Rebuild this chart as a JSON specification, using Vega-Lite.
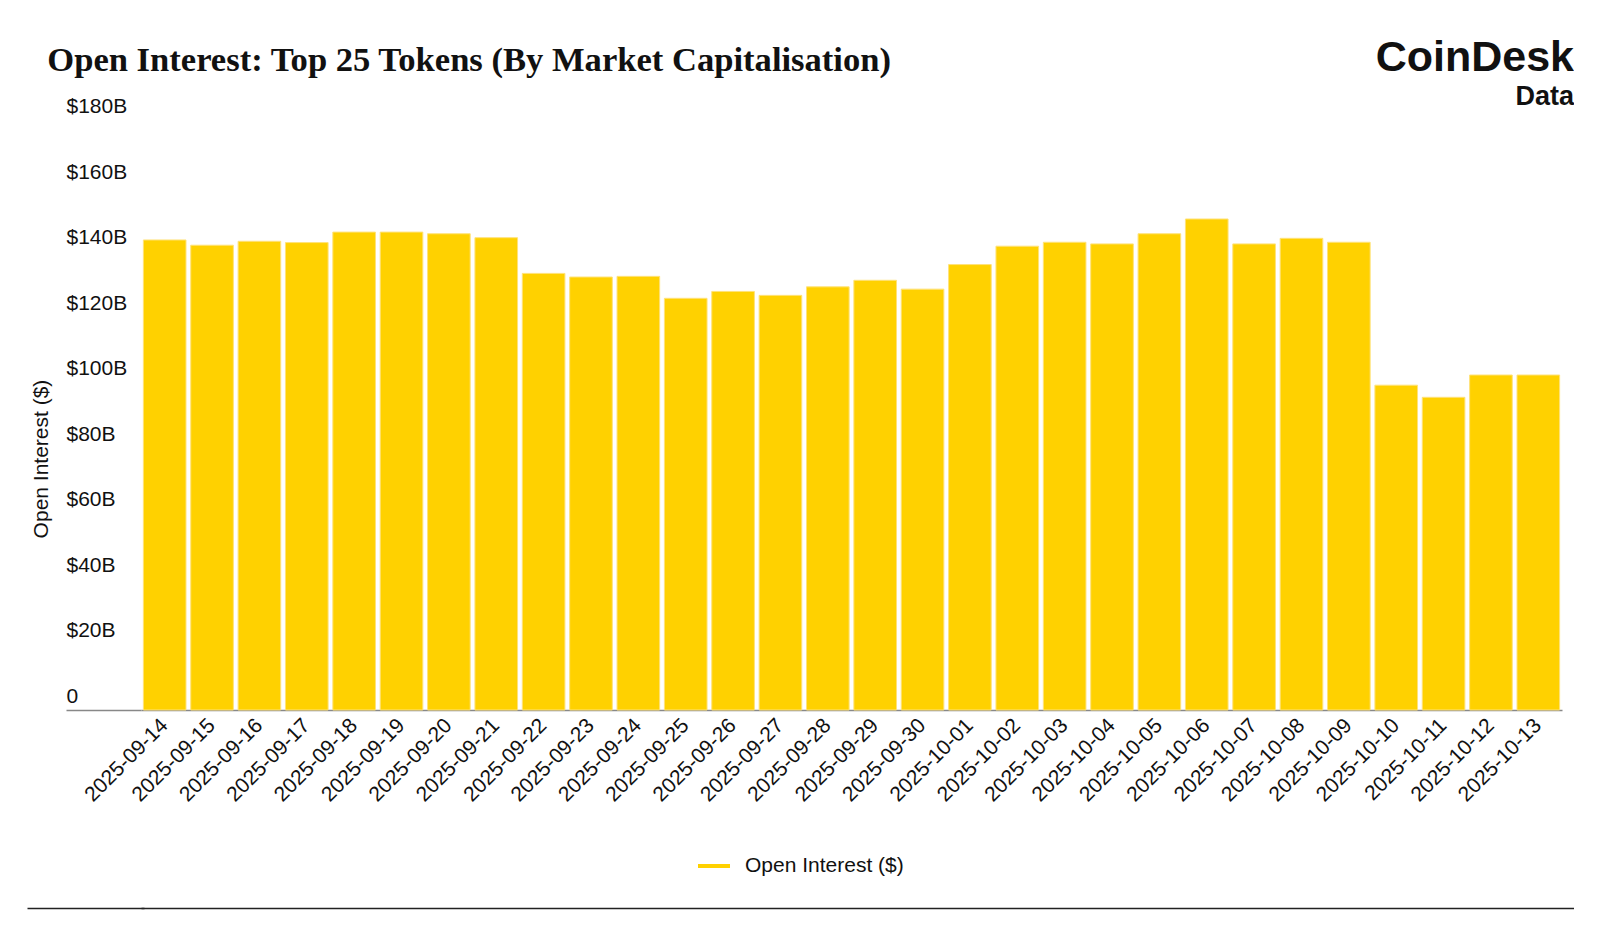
{
  "$schema": "https://vega.github.io/schema/vega-lite/v6.json",
  "background": "white",
  "padding": {"left": 26, "top": 36, "right": 0, "bottom": 0},
  "title": {
    "text": "Open Interest: Top 25 Tokens (By Market Capitalisation)",
    "anchor": "start",
    "frame": "bounds",
    "font": "Liberation Serif",
    "fontSize": 34.6,
    "fontWeight": "bold",
    "color": "#111111",
    "dx": 21,
    "offset": -42
  },
  "columns": 1,
  "align": "none",
  "bounds": "full",
  "spacing": 99,
  "concat": [
    {
      "width": 1421,
      "height": 590,
      "title": {
        "text": "CoinDesk",
        "subtitle": "Data",
        "anchor": "end",
        "frame": "group",
        "font": "Liberation Sans",
        "fontSize": 43,
        "fontWeight": "bold",
        "color": "#111111",
        "subtitleFont": "Liberation Sans",
        "subtitleFontSize": 27,
        "subtitleFontWeight": "bold",
        "subtitleColor": "#111111",
        "subtitlePadding": 4,
        "dx": 12,
        "offset": -14
      },
      "data": {
        "values": [
          {"date": "2025-09-14", "oi": 143.4, "series": "Open Interest ($)"},
          {"date": "2025-09-15", "oi": 141.8, "series": "Open Interest ($)"},
          {"date": "2025-09-16", "oi": 143.0, "series": "Open Interest ($)"},
          {"date": "2025-09-17", "oi": 142.6, "series": "Open Interest ($)"},
          {"date": "2025-09-18", "oi": 145.8, "series": "Open Interest ($)"},
          {"date": "2025-09-19", "oi": 145.8, "series": "Open Interest ($)"},
          {"date": "2025-09-20", "oi": 145.3, "series": "Open Interest ($)"},
          {"date": "2025-09-21", "oi": 144.1, "series": "Open Interest ($)"},
          {"date": "2025-09-22", "oi": 133.2, "series": "Open Interest ($)"},
          {"date": "2025-09-23", "oi": 132.1, "series": "Open Interest ($)"},
          {"date": "2025-09-24", "oi": 132.3, "series": "Open Interest ($)"},
          {"date": "2025-09-25", "oi": 125.6, "series": "Open Interest ($)"},
          {"date": "2025-09-26", "oi": 127.7, "series": "Open Interest ($)"},
          {"date": "2025-09-27", "oi": 126.5, "series": "Open Interest ($)"},
          {"date": "2025-09-28", "oi": 129.1, "series": "Open Interest ($)"},
          {"date": "2025-09-29", "oi": 131.1, "series": "Open Interest ($)"},
          {"date": "2025-09-30", "oi": 128.4, "series": "Open Interest ($)"},
          {"date": "2025-10-01", "oi": 135.9, "series": "Open Interest ($)"},
          {"date": "2025-10-02", "oi": 141.5, "series": "Open Interest ($)"},
          {"date": "2025-10-03", "oi": 142.7, "series": "Open Interest ($)"},
          {"date": "2025-10-04", "oi": 142.2, "series": "Open Interest ($)"},
          {"date": "2025-10-05", "oi": 145.3, "series": "Open Interest ($)"},
          {"date": "2025-10-06", "oi": 149.8, "series": "Open Interest ($)"},
          {"date": "2025-10-07", "oi": 142.2, "series": "Open Interest ($)"},
          {"date": "2025-10-08", "oi": 143.9, "series": "Open Interest ($)"},
          {"date": "2025-10-09", "oi": 142.7, "series": "Open Interest ($)"},
          {"date": "2025-10-10", "oi": 99.1, "series": "Open Interest ($)"},
          {"date": "2025-10-11", "oi": 95.4, "series": "Open Interest ($)"},
          {"date": "2025-10-12", "oi": 102.2, "series": "Open Interest ($)"},
          {"date": "2025-10-13", "oi": 102.2, "series": "Open Interest ($)"}
        ]
      },
      "mark": {"type": "bar", "stroke": "#FFE27A", "strokeWidth": 1},
      "encoding": {
        "x": {
          "field": "date",
          "type": "ordinal",
          "scale": {"paddingInner": 0.1, "paddingOuter": 0.05},
          "axis": {
            "title": null,
            "labelAngle": -45,
            "labelAlign": "right",
            "labelBaseline": "middle",
            "labelPadding": 12,
            "labelFont": "Liberation Sans",
            "labelFontSize": 21,
            "labelColor": "#111111",
            "ticks": false,
            "domainColor": "#888888",
            "domainWidth": 1.5
          }
        },
        "y": {
          "field": "oi",
          "type": "quantitative",
          "scale": {"domain": [0, 180], "nice": false},
          "axis": {
            "values": [0, 20, 40, 60, 80, 100, 120, 140, 160, 180],
            "labelExpr": "datum.value == 0 ? '0' : '$' + datum.value + 'B'",
            "labelAlign": "left",
            "labelBaseline": "middle",
            "labelOffset": -13.5,
            "labelPadding": 0,
            "labelFont": "Liberation Sans",
            "labelFontSize": 21,
            "labelColor": "#111111",
            "tickSize": 75,
            "tickWidth": 1.5,
            "tickColor": {"condition": {"test": "datum.value === 0", "value": "#888888"}, "value": "transparent"},
            "domain": false,
            "grid": false,
            "title": "Open Interest ($)",
            "titleFont": "Liberation Sans",
            "titleFontSize": 21,
            "titleFontWeight": "normal",
            "titleColor": "#111111",
            "titleAngle": -90,
            "titleAlign": "center",
            "titleBaseline": "middle",
            "titleX": -100,
            "titleY": 338.5
          }
        },
        "color": {
          "field": "series",
          "type": "nominal",
          "scale": {"range": ["#FFD100"]},
          "legend": {
            "title": null,
            "orient": "none",
            "legendX": 555,
            "legendY": 728,
            "padding": 0,
            "symbolType": "stroke",
            "symbolSize": 1024,
            "symbolStrokeWidth": 4,
            "symbolStrokeColor": "#FFD100",
            "labelFont": "Liberation Sans",
            "labelFontSize": 21,
            "labelColor": "#111111",
            "labelOffset": 13
          }
        }
      }
    },
    {
      "width": 1433,
      "height": 1,
      "data": {"values": [{"v": 0}]},
      "mark": {"type": "point", "opacity": 0},
      "encoding": {
        "x": {
          "field": "v",
          "type": "quantitative",
          "scale": {"domain": [0, 1]},
          "axis": null
        },
        "y": {
          "field": "v",
          "type": "quantitative",
          "scale": {"domain": [0, 1]},
          "axis": {"title": null, "labels": false, "values": [0], "offset": -3, "tickSize": 117, "tickColor": "#222222", "tickWidth": 1.5, "grid": true, "gridColor": "#222222", "gridWidth": 1.5, "gridOpacity": 1, "domain": false}
        }
      }
    }
  ],
  "config": {
    "view": {"stroke": null},
    "font": "Liberation Sans"
  }
}
